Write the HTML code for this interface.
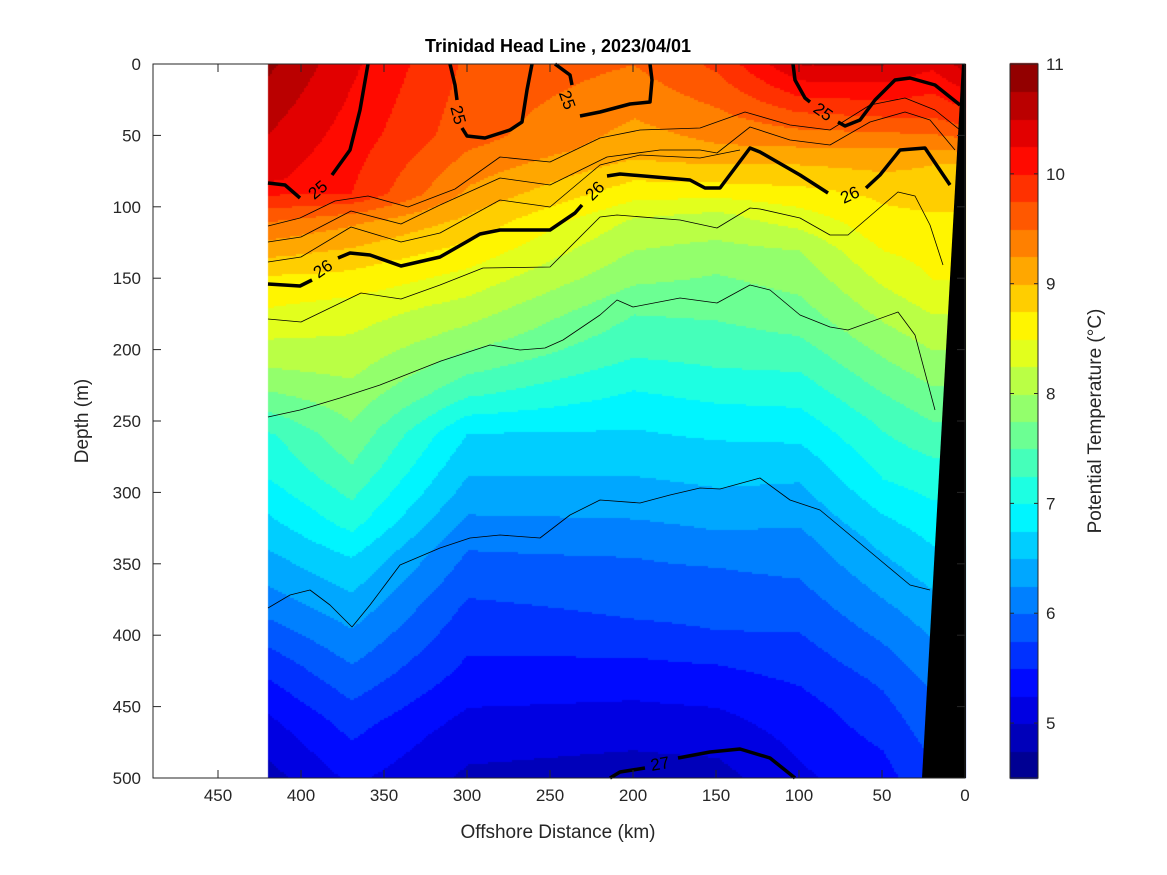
<!DOCTYPE html>
<html><head><meta charset="utf-8"><style>
html,body{margin:0;padding:0;background:#fff;}
#w{position:relative;width:1167px;height:875px;font-family:"Liberation Sans","DejaVu Sans",sans-serif;}
canvas{position:absolute;left:0;top:0;}
svg{position:absolute;left:0;top:0;}
</style></head><body><div id="w">
<canvas id="c" width="1167" height="875"></canvas>
<svg id="s" width="1167" height="875" xmlns="http://www.w3.org/2000/svg"></svg>
</div>
<script>
const kx=km=>965-km*1.66, dy=d=>64+d*1.428;
const st=[
[420,[[0,10.8],[80,10.3],[110,9.5],[150,8.7],[180,8.4],[220,7.9],[260,7.2],[290,7.0],[330,6.6],[380,6.1],[420,5.6],[460,5.2],[500,4.9]]],
[370,[[0,10.3],[90,10.0],[110,9.3],[140,8.8],[170,8.4],[220,8.0],[280,7.5],[320,7.1],[345,6.75],[380,6.4],[420,6.0],[460,5.6],[500,5.3]]],
[300,[[0,9.7],[50,9.6],[90,9.2],[120,8.8],[150,8.4],[190,7.9],[230,7.3],[258,6.75],[300,6.4],[340,6.0],[380,5.7],[430,5.4],[470,5.1],[500,4.95]]],
[200,[[0,9.5],[60,9.1],[90,8.6],[110,8.2],[150,7.8],[175,7.5],[205,7.25],[228,7.0],[255,6.75],[288,6.5],[318,6.25],[345,6.0],[388,5.75],[415,5.5],[445,5.25],[480,5.0],[500,4.9]]],
[150,[[0,9.8],[60,9.2],[85,8.7],[105,8.2],[140,7.8],[179,7.5],[212,7.25],[237,7.0],[263,6.75],[296,6.5],[326,6.25],[352,6.0],[396,5.75],[420,5.5],[450,5.25],[485,5.0],[500,4.9]]],
[100,[[0,10.5],[40,9.6],[70,9.0],[100,8.5],[130,8.0],[180,7.6],[230,7.1],[280,6.6],[330,6.2],[390,5.8],[450,5.4],[500,5.2]]],
[50,[[0,10.5],[30,9.9],[60,9.2],[90,8.8],[120,8.6],[160,8.2],[210,7.7],[250,7.3],[290,7.0],[330,6.6],[380,6.2],[430,5.8],[480,5.5],[500,5.4]]],
[20,[[0,10.3],[40,9.7],[70,9.0],[110,8.7],[150,8.5],[200,8.0],[240,7.6],[280,7.2],[330,6.8],[380,6.4],[440,6.0],[500,5.7]]],
[0,[[0,10.6],[40,9.8],[70,9.0],[110,8.7],[150,8.5],[200,8.0],[240,7.6],[280,7.2],[330,6.8],[380,6.4],[440,6.0],[500,5.7]]]];
function prof(p,d){for(let i=0;i<p.length-1;i++){if(d<=p[i+1][0]){const t=(d-p[i][0])/(p[i+1][0]-p[i][0]);return p[i][1]+t*(p[i+1][1]-p[i][1]);}}return p[p.length-1][1];}
function T(km,d){for(let i=0;i<st.length-1;i++){if(km<=st[i][0]&&km>=st[i+1][0]){const t=(st[i][0]-km)/(st[i][0]-st[i+1][0]);return prof(st[i][1],d)*(1-t)+prof(st[i+1][1],d)*t;}}return prof(st[0][1],d);}
function jet(t){const c=v=>Math.round(255*Math.max(0,Math.min(1,v)));return [c(1.5-Math.abs(4*t-3)),c(1.5-Math.abs(4*t-2)),c(1.5-Math.abs(4*t-1))];}
function col(Tv){let i=Math.floor((Tv-4.5)/0.25);i=Math.max(0,Math.min(25,i));const c=jet((i+0.5)/26);return `rgb(${c[0]},${c[1]},${c[2]})`;}
const ctx=document.getElementById('c').getContext('2d');
for(let x=268;x<965;x+=2){const km=(965-x)/1.66;for(let y=64;y<778;y+=2){ctx.fillStyle=col(T(km,(y-64)/1.428));ctx.fillRect(x,y,2,2);}}
for(let i=0;i<26;i++){const c=jet((i+0.5)/26);ctx.fillStyle=`rgb(${c[0]},${c[1]},${c[2]})`;const ya=778-(i+1)*0.25*109.85,yb=778-i*0.25*109.85;ctx.fillRect(1010,Math.floor(ya),28,Math.ceil(yb-ya)+1);}
let s='';
const pl=(pts,w)=>{s+=`<polyline fill="none" stroke="#000" stroke-width="${w}" stroke-linejoin="round" points="${pts.map(p=>p.join(',')).join(' ')}"/>`;};
// thin lines
pl([[268,226],[300,218],[335,201],[368,196],[408,207],[455,189],[500,157],[550,162],[600,138],[640,130],[700,128],[745,112],[790,125],[830,130],[870,105],[905,98],[935,110],[960,130]],0.8);
pl([[268,242],[301,237],[351,211],[401,224],[440,205],[500,178],[550,185],[607,157],[660,150],[700,150],[717,153],[750,127],[790,140],[830,145],[870,122],[905,112],[930,120],[955,150]],0.8);
pl([[268,262],[301,257],[351,227],[401,242],[440,233],[500,200],[550,207],[600,165],[640,155],[700,158],[740,150]],0.8);
pl([[268,319],[301,322],[361,293],[401,299],[440,285],[483,268],[550,267],[600,217],[617,215],[680,220],[717,228],[750,208],[760,209],[800,218],[830,235],[848,235],[898,192],[915,196],[930,225],[943,265]],0.8);
pl([[268,417],[300,410],[340,398],[380,385],[441,361],[490,345],[520,350],[545,348],[563,340],[600,315],[617,300],[633,307],[680,298],[717,303],[750,285],[770,290],[800,315],[830,327],[848,330],[898,312],[915,335],[935,410]],0.8);
pl([[268,608],[290,595],[310,590],[330,605],[352,627],[370,605],[400,565],[440,548],[470,538],[500,535],[540,538],[570,515],[600,500],[640,503],[670,495],[700,488],[720,489],[760,478],[790,500],[820,510],[850,535],[880,560],[910,585],[930,590]],0.8);
// thick
pl([[268,284],[300,286],[312,280]],3.5);pl([[338,258],[350,253],[370,255],[401,266],[440,257],[468,241],[480,234],[500,230],[550,230],[575,213],[582,205]],3.5);
pl([[607,176],[620,174],[690,180],[705,188],[720,188],[750,148],[760,152],[800,175],[828,193]],3.5);pl([[866,188],[880,175],[900,150],[925,148],[950,185]],3.5);
pl([[268,183],[285,185],[300,198]],3.5);pl([[332,175],[350,150],[360,110],[368,64]],3.5);
pl([[450,64],[455,85],[457,100]],3.5);pl([[462,128],[467,136],[485,138],[510,130],[522,122],[527,90],[532,64]],3.5);
pl([[555,64],[570,75],[572,85]],3.5);pl([[580,116],[600,112],[630,104],[650,102],[652,80],[650,64]],3.5);
pl([[793,64],[795,80],[805,98],[810,102]],3.5);pl([[838,122],[845,126],[860,120],[875,100],[895,80],[910,78],[935,85],[960,105]],3.5);
pl([[610,778],[620,772],[645,768]],3.5);pl([[678,758],[710,752],[740,749],[770,758],[795,778]],3.5);
const lab=(x,y,t,r)=>{s+=`<text x="${x}" y="${y}" font-size="17" text-anchor="middle" dominant-baseline="central" transform="rotate(${r} ${x} ${y})">${t}</text>`;};
lab(323,269,'26',-35);lab(595,191,'26',-45);lab(850,195,'26',-25);lab(318,190,'25',-40);lab(458,115,'25',75);lab(567,100,'25',70);lab(823,112,'25',35);lab(660,764,'27',-10);
s+=`<polygon points="962,64 966,64 966,778 922,778" fill="#000"/>`;
s+=`<rect x="153" y="64" width="812" height="714" fill="none" stroke="#262626" stroke-width="1"/>`;
for(let km=0;km<=450;km+=50){const x=kx(km);s+=`<line x1="${x}" y1="778" x2="${x}" y2="770" stroke="#262626"/><line x1="${x}" y1="64" x2="${x}" y2="72" stroke="#262626"/><text x="${x}" y="801" font-size="17" text-anchor="middle" fill="#262626">${km}</text>`;}
for(let d=0;d<=500;d+=50){const y=dy(d);s+=`<line x1="153" y1="${y}" x2="161" y2="${y}" stroke="#262626"/><line x1="965" y1="${y}" x2="957" y2="${y}" stroke="#262626"/><text x="141" y="${y+6}" font-size="17" text-anchor="end" fill="#262626">${d}</text>`;}
s+=`<rect x="1010" y="64" width="28" height="714" fill="none" stroke="#262626"/>`;
for(let t=5;t<=11;t++){const y=778-(t-4.5)*109.85;s+=`<line x1="1010" y1="${y}" x2="1014" y2="${y}" stroke="#262626"/><line x1="1038" y1="${y}" x2="1034" y2="${y}" stroke="#262626"/><text x="1046" y="${y+6}" font-size="17" fill="#262626">${t}</text>`;}
s+=`<text x="558" y="52" font-size="18" font-weight="bold" text-anchor="middle">Trinidad Head Line , 2023/04/01</text>`;
s+=`<text x="558" y="838" font-size="19" text-anchor="middle" fill="#262626">Offshore Distance (km)</text>`;
s+=`<text x="88" y="421" font-size="19" text-anchor="middle" fill="#262626" transform="rotate(-90 88 421)">Depth (m)</text>`;
s+=`<text x="1101" y="421" font-size="19" text-anchor="middle" fill="#262626" transform="rotate(-90 1101 421)">Potential Temperature (°C)</text>`;
document.getElementById('s').innerHTML=s;
</script></body></html>
